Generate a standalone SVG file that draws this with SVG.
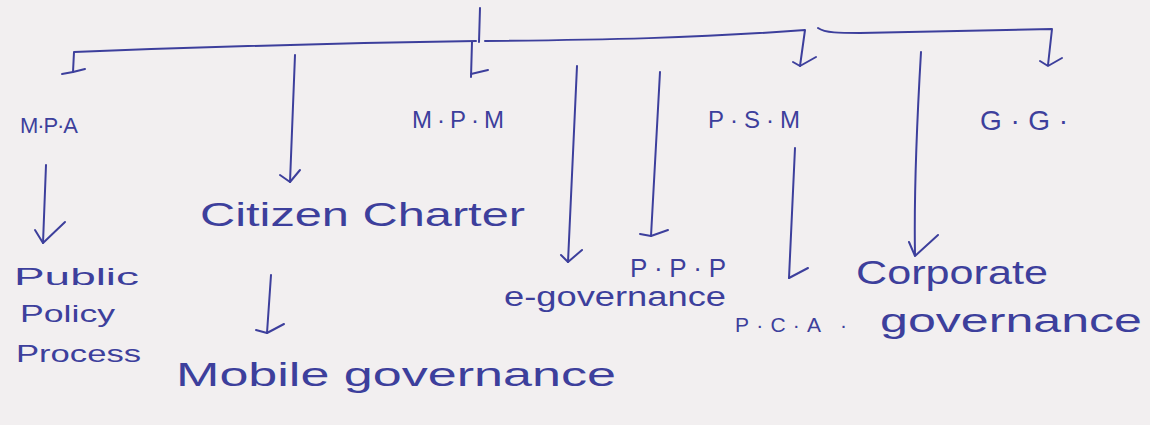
<svg xmlns="http://www.w3.org/2000/svg" width="1150" height="425" viewBox="0 0 1150 425">
<style>
.bg{fill:#f2eff0}
.ln{fill:none;stroke:#3d3f9c;stroke-width:2;stroke-linecap:round;stroke-linejoin:round}
.t{font-family:"Liberation Sans","DejaVu Sans",sans-serif;fill:#3d3f9c;font-weight:normal}
</style>
<rect class="bg" x="0" y="0" width="1150" height="425"/>
<g id="connectors">
<path class="ln" d="M480,8 L479,42"/>
<path class="ln" d="M476,41 C350,43 200,47 74,52 L73,72"/>
<path class="ln" d="M62,74 L73,72 L85,69"/>
<path class="ln" d="M472,42 L471,77"/>
<path class="ln" d="M471,74 L488,70"/>
<path class="ln" d="M485,41 C600,40 700,38 805,30 L800,66"/>
<path class="ln" d="M793,62 L800,66 L816,57"/>
<path class="ln" d="M818,28 C825,33 840,33 860,33 L1052,29 L1048,65"/>
<path class="ln" d="M1040,61 L1048,66 L1062,58"/>
<path class="ln" d="M295,55 L290,182"/>
<path class="ln" d="M280,175 L290,182 L300,170"/>
<path class="ln" d="M577,66 L568,262"/>
<path class="ln" d="M561,255 L568,262 L582,250"/>
<path class="ln" d="M660,72 L651,236"/>
<path class="ln" d="M640,234 L651,236 L668,230"/>
<path class="ln" d="M795,148 L789,278"/>
<path class="ln" d="M789,278 L808,268"/>
<path class="ln" d="M921,52 C917,120 914,200 915,255"/>
<path class="ln" d="M909,242 L915,256 L938,235"/>
<path class="ln" d="M46,165 L43,243"/>
<path class="ln" d="M35,230 L43,243 L65,222"/>
<path class="ln" d="M271,275 L267,333"/>
<path class="ln" d="M256,330 L267,333 L284,324"/>
</g>
<g id="n-mpa"><text class="t" x="20" y="133" font-size="22" textLength="58" lengthAdjust="spacing">M·P·A</text></g>
<g id="n-mpm"><text class="t" x="412" y="128" font-size="24" textLength="92" lengthAdjust="spacing">M·P·M</text></g>
<g id="n-psm"><text class="t" x="708" y="128" font-size="24" textLength="92" lengthAdjust="spacing">P·S·M</text></g>
<g id="n-gg"><text class="t" x="980" y="130" font-size="28" textLength="88" lengthAdjust="spacing">G·G·</text></g>
<g id="n-cc"><text class="t" x="200" y="226" font-size="34" textLength="325" lengthAdjust="spacingAndGlyphs">Citizen Charter</text></g>
<g id="n-ppp-left"><text class="t" font-size="24"><tspan x="14" y="285" textLength="125" lengthAdjust="spacingAndGlyphs">Public</tspan><tspan x="20" y="322" textLength="95" lengthAdjust="spacingAndGlyphs">Policy</tspan><tspan x="16" y="362" textLength="125" lengthAdjust="spacingAndGlyphs">Process</tspan></text></g>
<g id="n-mg"><text class="t" x="176" y="386" font-size="34" textLength="440" lengthAdjust="spacingAndGlyphs">Mobile governance</text></g>
<g id="n-eg"><text class="t" x="504" y="306" font-size="27" textLength="222" lengthAdjust="spacingAndGlyphs">e-governance</text></g>
<g id="n-ppp"><text class="t" x="630" y="277" font-size="26" textLength="96" lengthAdjust="spacing">P·P·P</text></g>
<g id="n-pca"><text class="t" x="735" y="332" font-size="21" textLength="112" lengthAdjust="spacing">P·C·A ·</text></g>
<g id="n-cg"><text class="t" x="856" y="284" font-size="34" textLength="192" lengthAdjust="spacingAndGlyphs">Corporate</text><text class="t" x="880" y="332" font-size="34" textLength="262" lengthAdjust="spacingAndGlyphs">governance</text></g>
</svg>
